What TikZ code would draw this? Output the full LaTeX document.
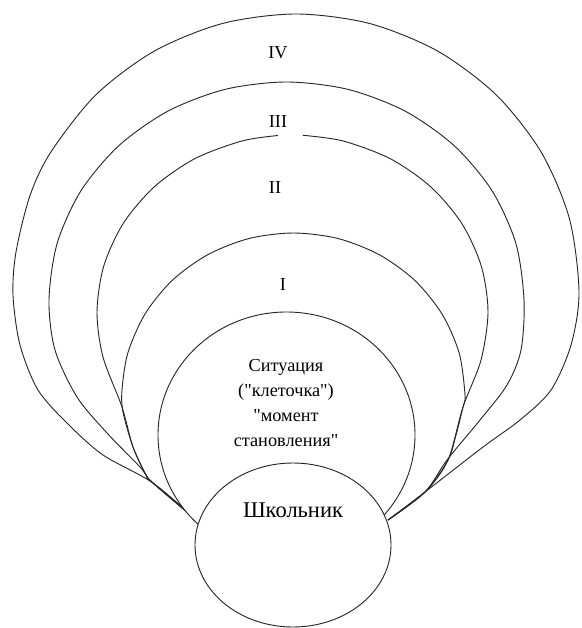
\documentclass[tikz,border=0pt]{standalone}
\usepackage{fontspec}
\setmainfont{Liberation Serif}
\usetikzlibrary{shapes.geometric}
\begin{document}
\begin{tikzpicture}[x=0.025cm,y=-0.025cm,
  arch/.style={draw=black!85, line width=0.65pt, line join=round},
  oval/.style={ellipse, draw=black!85, fill=white, line width=0.65pt, inner sep=0pt},
  num/.style={font=\fontsize{13}{15}\selectfont, inner sep=0pt},
  txt/.style={font=\fontsize{13}{17.8}\selectfont, align=center, inner sep=0pt},
  big/.style={font=\fontsize{16}{18}\selectfont, inner sep=0pt}]
\useasboundingbox (0,0) rectangle (581,628);

% IV
\draw[arch] plot[smooth] coordinates {(200,523) (153,483) (103,455) (68,424) (38,390) (20,345) (13,295) (16,252)
  (30,195.6) (50.9,152) (95.9,94.8) (154.5,51) (222.8,23.4) (296,14) (369.2,23.4) (437.5,51)
  (496.1,94.8) (541.1,152) (569.4,218.6) (579,292) (571,345) (551,390) (520,420) (483,447) (425,492) (388,520)};
% III
\draw[arch] plot[smooth] coordinates {(200,523) (153,483) (140,467) (107,433) (77,397) (55,350) (49,300)
  (57.1,243.6) (80.8,191) (118.6,145.9) (167.75,111.2) (225,89.4) (286.5,82) (348,89.4) (405.25,111.2)
  (454.4,145.9) (492.2,191) (515.9,243.6) (524,300) (521,350) (507,385) (480,420) (447,460) (425,492) (388,520)};
% II (with gap at the top)
\draw[arch] plot[smooth] coordinates {(200,523) (153,483) (147,477) (133,447) (122,407) (103,357) (97,312)
  (103.7,266.2) (123.2,223.5) (154.3,186.8) (194.75,158.7) (241.9,141) (278,135.5)};
\draw[arch] plot[smooth] coordinates {(303,135.3) (343.1,141) (390.25,158.7) (430.7,186.8) (461.8,223.5)
  (481.3,266.2) (488,312) (481,360) (463,407) (448,460) (425,492) (388,520)};
% I
\draw[arch] plot[smooth] coordinates {(200,523) (153,483) (147,477) (133,447) (123,412) (122,390)
  (127.8,353.1) (145,314) (172.2,280.4) (207.75,254.7) (249.1,238.5) (293.5,233) (337.9,238.5)
  (379.25,254.7) (414.8,280.4) (442,314) (459.2,353.1) (465,395) (463,407) (456,435) (448,460) (425,492) (388,520)};

% Situation and pupil
\node[oval, minimum width=257*0.025cm, minimum height=246*0.025cm] (sit) at (286.5,435) {};
\node[oval, minimum width=196*0.025cm, minimum height=164*0.025cm] (pupil) at (293,545) {};

\node[num] (l4) at (278,53) {IV};
\node[num] (l3) at (278,122) {III};
\node[num] (l2) at (275,188) {II};
\node[num] (l1) at (283,285) {I};
\node[txt] (sittext) at (286,403) {Ситуация\\(\textquotedbl клеточка\textquotedbl)\\\textquotedbl момент\\становления\textquotedbl};
\node[big] (pupiltext) at (293,510) {Школьник};
\end{tikzpicture}
\end{document}
